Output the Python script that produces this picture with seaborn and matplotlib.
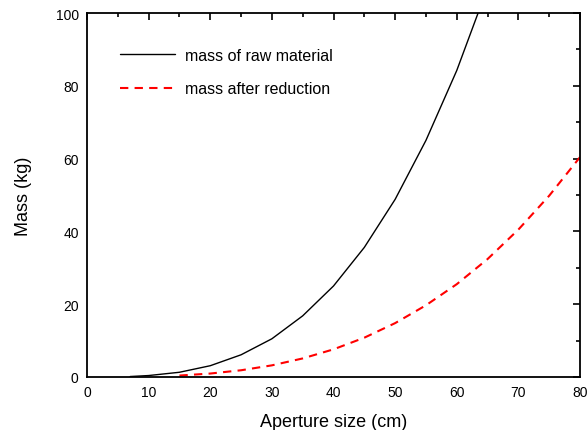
import matplotlib
matplotlib.use("Agg")
import matplotlib.pyplot as plt
from matplotlib.ticker import MultipleLocator
import seaborn as sns
import pandas as pd

raw_x = [7, 10, 15, 20, 25, 30, 35, 40, 45, 50, 55, 60, 65]
raw_y = [0.13, 0.4, 1.3, 3.1, 6.1, 10.5, 16.8, 25.0, 35.6, 48.8, 65.0, 84.2, 107.0]
red_x = [15, 20, 25, 30, 35, 40, 45, 50, 55, 60, 65, 70, 75, 80]
red_y = [0.4, 0.95, 1.85, 3.2, 5.1, 7.6, 10.8, 14.8, 19.7, 25.5, 32.4, 40.5, 49.8, 60.4]

sns.set_style("white")
plt.rcParams['font.family'] = ['Liberation Sans', 'DejaVu Sans']
plt.rcParams['text.color'] = 'black'
plt.rcParams['axes.labelcolor'] = 'black'
plt.rcParams['xtick.color'] = 'black'
plt.rcParams['ytick.color'] = 'black'

df_raw = pd.DataFrame({"x": raw_x, "y": raw_y})
df_red = pd.DataFrame({"x": red_x, "y": red_y})

fig = plt.figure(figsize=(5.87, 4.31), dpi=100)
ax = fig.add_axes([87/587, 1-378/431, (580-87)/587, (378-14)/431])

sns.lineplot(data=df_raw, x="x", y="y", ax=ax, color="black", linewidth=1.0,
             label="mass of raw material")
sns.lineplot(data=df_red, x="x", y="y", ax=ax, color="red", linewidth=1.5,
             linestyle=(0, (4, 3)), label="mass after reduction")

ax.set_xlim(0, 80)
ax.set_ylim(0, 100)
ax.xaxis.set_major_locator(MultipleLocator(10))
ax.xaxis.set_minor_locator(MultipleLocator(5))
ax.yaxis.set_major_locator(MultipleLocator(20))
ax.yaxis.set_minor_locator(MultipleLocator(10))
ax.tick_params(which="both", direction="in", top=True, right=True, labelsize=10, pad=6)
ax.tick_params(which="major", length=5, width=1.2)
ax.tick_params(which="minor", length=3, width=1.2)
for s in ax.spines.values():
    s.set_linewidth(1.3)
    s.set_color("black")

ax.set_xlabel("Aperture size (cm)", fontsize=13, labelpad=10)
ax.set_ylabel("Mass (kg)", fontsize=13, labelpad=17)

ax.legend(loc="upper left", bbox_to_anchor=(0.067, 0.904), frameon=False, fontsize=11.5,
          borderpad=0, borderaxespad=0,
          handlelength=3.45, handletextpad=0.6, labelspacing=1.15)

fig.savefig("out.png", dpi=100)
